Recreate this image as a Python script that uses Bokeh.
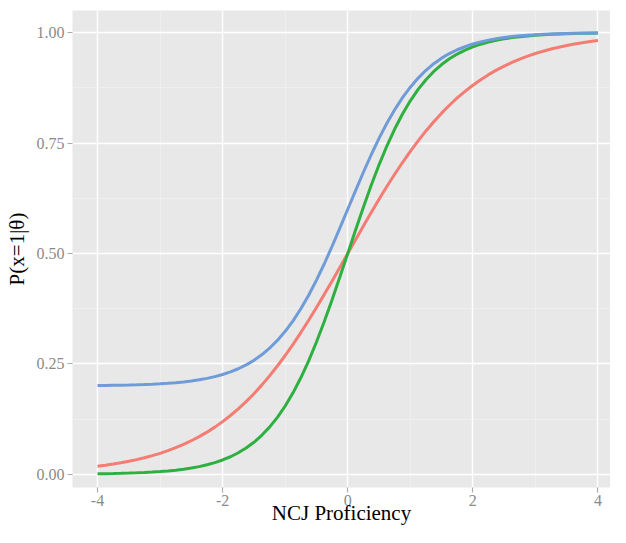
from bokeh.plotting import figure
from bokeh.models import Range1d, FixedTicker
from bokeh.embed import file_html
from bokeh.resources import INLINE

theta = [-4.0, -3.875, -3.75, -3.625, -3.5, -3.375, -3.25, -3.125,
         -3.0, -2.875, -2.75, -2.625, -2.5, -2.375, -2.25, -2.125,
         -2.0, -1.875, -1.75, -1.625, -1.5, -1.375, -1.25, -1.125,
         -1.0, -0.875, -0.75, -0.625, -0.5, -0.375, -0.25, -0.125,
         0.0, 0.125, 0.25, 0.375, 0.5, 0.625, 0.75, 0.875,
         1.0, 1.125, 1.25, 1.375, 1.5, 1.625, 1.75, 1.875,
         2.0, 2.125, 2.25, 2.375, 2.5, 2.625, 2.75, 2.875,
         3.0, 3.125, 3.25, 3.375, 3.5, 3.625, 3.75, 3.875, 4.0]

p_red = [0.0180, 0.0203, 0.0230, 0.0259, 0.0293, 0.0331, 0.0373, 0.0421,
         0.0474, 0.0534, 0.0601, 0.0676, 0.0759, 0.0851, 0.0953, 0.1067,
         0.1192, 0.1330, 0.1480, 0.1645, 0.1824, 0.2018, 0.2227, 0.2451,
         0.2689, 0.2942, 0.3208, 0.3486, 0.3775, 0.4073, 0.4378, 0.4688,
         0.5000, 0.5312, 0.5622, 0.5927, 0.6225, 0.6514, 0.6792, 0.7058,
         0.7311, 0.7549, 0.7773, 0.7982, 0.8176, 0.8355, 0.8520, 0.8670,
         0.8808, 0.8933, 0.9047, 0.9149, 0.9241, 0.9324, 0.9399, 0.9466,
         0.9526, 0.9579, 0.9627, 0.9669, 0.9707, 0.9741, 0.9770, 0.9797, 0.9820]

p_green = [0.0011, 0.0014, 0.0017, 0.0021, 0.0026, 0.0032, 0.0040, 0.0049,
           0.0061, 0.0075, 0.0092, 0.0114, 0.0141, 0.0173, 0.0214, 0.0263,
           0.0323, 0.0396, 0.0486, 0.0594, 0.0724, 0.0881, 0.1067, 0.1287,
           0.1545, 0.1843, 0.2184, 0.2568, 0.2994, 0.3458, 0.3953, 0.4471,
           0.5000, 0.5529, 0.6047, 0.6542, 0.7006, 0.7432, 0.7816, 0.8157,
           0.8455, 0.8713, 0.8933, 0.9119, 0.9276, 0.9406, 0.9514, 0.9604,
           0.9677, 0.9737, 0.9786, 0.9827, 0.9859, 0.9886, 0.9908, 0.9925,
           0.9939, 0.9951, 0.9960, 0.9968, 0.9974, 0.9979, 0.9983, 0.9986, 0.9989]

p_blue = [0.2009, 0.2011, 0.2014, 0.2017, 0.2021, 0.2026, 0.2032, 0.2039,
          0.2049, 0.2060, 0.2074, 0.2091, 0.2113, 0.2138, 0.2171, 0.2210,
          0.2258, 0.2317, 0.2389, 0.2475, 0.2579, 0.2705, 0.2854, 0.3030,
          0.3236, 0.3474, 0.3747, 0.4054, 0.4395, 0.4766, 0.5162, 0.5577,
          0.6000, 0.6423, 0.6838, 0.7234, 0.7605, 0.7946, 0.8253, 0.8526,
          0.8764, 0.8970, 0.9146, 0.9295, 0.9421, 0.9525, 0.9611, 0.9683,
          0.9742, 0.9790, 0.9829, 0.9862, 0.9887, 0.9909, 0.9926, 0.9940,
          0.9951, 0.9961, 0.9968, 0.9974, 0.9979, 0.9983, 0.9986, 0.9989, 0.9991]

x_ticks = [-4, -2, 0, 2, 4]
x_labels = {-4: "-4", -2: "-2", 0: "0", 2: "2", 4: "4"}
y_ticks = [0.0, 0.25, 0.5, 0.75, 1.0]
y_labels = {0.0: "0.00", 0.25: "0.25", 0.5: "0.50", 0.75: "0.75", 1.0: "1.00"}

p = figure(width=610, height=527, output_backend="svg", toolbar_location=None,
           x_range=Range1d(-4.4, 4.2), y_range=Range1d(-0.03, 1.05),
           min_border_left=72, min_border_right=0, min_border_top=10, min_border_bottom=40)

p.background_fill_color = "#E8E8E8"
p.border_fill_color = "white"
p.outline_line_color = None

p.xaxis.ticker = FixedTicker(ticks=x_ticks, minor_ticks=[-3, -1, 1, 3])
p.yaxis.ticker = FixedTicker(ticks=y_ticks, minor_ticks=[0.125, 0.375, 0.625, 0.875])
p.xaxis.major_label_overrides = x_labels
p.yaxis.major_label_overrides = y_labels

p.xgrid.grid_line_color = "white"
p.ygrid.grid_line_color = "white"
p.xgrid.grid_line_width = 1.5
p.ygrid.grid_line_width = 1.5
p.xgrid.minor_grid_line_color = "#F2F2F2"
p.ygrid.minor_grid_line_color = "#F2F2F2"
p.xgrid.minor_grid_line_width = 0.7
p.ygrid.minor_grid_line_width = 0.7

for ax in (p.xaxis, p.yaxis):
    ax.axis_line_color = None
    ax.major_tick_line_color = "#ABABAB"
    ax.major_tick_line_width = 1.2
    ax.major_tick_out = 5
    ax.major_tick_in = 0
    ax.minor_tick_line_color = None
    ax.major_label_text_font = "Liberation Serif"
    ax.major_label_text_font_size = "16px"
    ax.major_label_text_color = "#8A8A8A"
    ax.axis_label_text_font = "Liberation Serif"
    ax.axis_label_text_font_size = "21px"
    ax.axis_label_text_font_style = "normal"
    ax.axis_label_text_color = "black"

p.xaxis.axis_label = "NCJ Proficiency"
p.yaxis.axis_label = "P(x=1|\u03b8)"
p.xaxis.major_label_standoff = 2
p.yaxis.major_label_standoff = 3
p.xaxis.axis_label_standoff = -8
p.yaxis.axis_label_standoff = 5

p.line(theta, p_red, line_color="#F47C73", line_width=3)
p.line(theta, p_green, line_color="#2EB040", line_width=3)
p.line(theta, p_blue, line_color="#6F9BD8", line_width=3)

open("out.html", "w").write(file_html(p, INLINE))
